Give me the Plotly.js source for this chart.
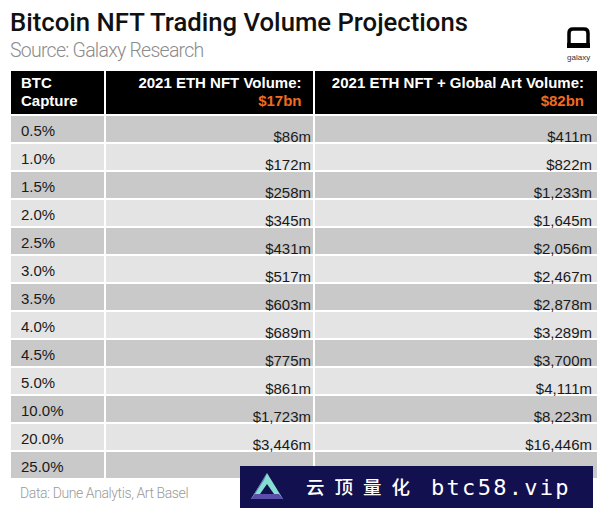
<!DOCTYPE html>
<html><head><meta charset="utf-8">
<script src="https://cdn.plot.ly/plotly-3.0.1.min.js"></script>
<style>body{margin:0;background:#fff}#c{width:600px;height:508px}</style>
</head><body><div id="c"></div>
<script>
const capture = ['0.5%','1.0%','1.5%','2.0%','2.5%','3.0%','3.5%','4.0%','4.5%','5.0%','10.0%','20.0%','25.0%'];
const ethNftVolume = [86,172,258,345,431,517,603,689,775,861,1723,3446,4307];
const ethPlusArtVolume = [411,822,1233,1645,2056,2467,2878,3289,3700,4111,8223,16446,20557];
const headerLine1 = ['BTC','2021 ETH NFT Volume:','2021 ETH NFT + Global Art Volume:'];
const headerLine2 = ['Capture','$17bn','$82bn'];

const W=600,H=508;
const px=x=>x/W, py=y=>1-y/H;
const fmt=v=>'$'+v.toLocaleString('en-US')+'m';
const blank=capture.map(()=>'');
const rowFill = capture.map((_,i)=> i%2===0 ? '#c9c9c9' : '#e4e4e4');
const clear='rgba(0,0,0,0)';
const cellFont={family:'Arial',size:15,color:'#1a1a1a'};
const hdrFont={family:'Arial',size:15,color:'#fff',weight:'bold'};

// fills
const tA={type:'table',domain:{x:[px(10),px(598)],y:[0,py(70)]},columnwidth:[95,209,284],
  header:{values:['','',''],height:45,fill:{color:'#000'},line:{color:'#fff',width:2}},
  cells:{values:[blank,blank,blank],height:28,fill:{color:[rowFill,rowFill,rowFill]},line:{color:'#fff',width:2}}};
// first column text
const tC={type:'table',domain:{x:[px(13),px(598)],y:[0,py(72)]},columnwidth:[92,209,284],
  header:{values:['','',''],height:45,fill:{color:clear},line:{color:clear,width:2}},
  cells:{values:[capture,blank,blank],align:'left',height:28,fill:{color:clear},line:{color:clear,width:2},font:cellFont}};
// value columns
const tB={type:'table',domain:{x:[px(13),1],y:[0,py(77.5)]},columnwidth:[92,214,281],
  header:{values:['','',''],height:45,fill:{color:clear},line:{color:clear,width:2}},
  cells:{values:[blank,ethNftVolume.map(fmt),ethPlusArtVolume.map(fmt)],align:['left','right','right'],height:28,
    fill:{color:clear},line:{color:clear,width:2},font:cellFont}};
// header lines
const tD={type:'table',domain:{x:[px(13),px(593)],y:[0,py(69)]},columnwidth:[92,205,283],
  header:{values:headerLine1,align:['left','right','right'],height:45,fill:{color:clear},line:{color:clear,width:2},font:hdrFont},
  cells:{values:[[''],[''],['']],height:28,fill:{color:clear},line:{color:clear,width:2}}};
const tE={type:'table',domain:{x:[px(13),px(593)],y:[0,py(87)]},columnwidth:[92,205,283],
  header:{values:headerLine2,align:['left','right','right'],height:45,fill:{color:clear},line:{color:clear,width:2},
    font:{family:'Arial',size:15,weight:'bold',color:['#fff','#f26a21','#f26a21']}},
  cells:{values:[[''],[''],['']],height:28,fill:{color:clear},line:{color:clear,width:2}}};

const P=(pts)=>'M '+pts.map(p=>px(p[0])+' '+py(p[1])).join(' L ')+' Z';
const tri=P([[267,473],[283,499],[251,499]]);
const triBase=P([[251,499],[283,499],[279,494],[255,494]]);
const triLeft=P([[251,499],[255,494],[264,480],[267,473]]);
const triIn=P([[267,484],[274,494],[260,494]]);
const logo=`M ${px(569)} ${py(44)} L ${px(569)} ${py(33)} Q ${px(569)} ${py(29)} ${px(573)} ${py(29)} L ${px(584)} ${py(29)} Q ${px(588)} ${py(29)} ${px(588)} ${py(33)} L ${px(588)} ${py(44)}`;

const layout={width:W,height:H,margin:{l:0,r:0,t:0,b:0},paper_bgcolor:'#fff',plot_bgcolor:'#fff',
  title:{text:'Bitcoin NFT Trading Volume Projections',x:px(10),xanchor:'left',xref:'paper',y:py(22),yanchor:'middle',
    font:{family:'Roboto',size:25.7,color:'#111',weight:500}},
  annotations:[
    {text:'Source: Galaxy Research',xref:'paper',yref:'paper',x:px(10),y:py(50.5),xanchor:'left',yanchor:'middle',showarrow:false,
     font:{family:'Roboto',size:19.5,color:'#8c8c8c',weight:300}},
    {text:'galaxy',xref:'paper',yref:'paper',x:px(578),y:py(57),xanchor:'center',yanchor:'middle',showarrow:false,
     font:{family:'Arial',size:8,color:'#333'}},
    {text:'Data: Dune Analytis, Art Basel',xref:'paper',yref:'paper',x:px(20),y:py(493),xanchor:'left',yanchor:'middle',showarrow:false,
     font:{family:'Roboto',size:14,color:'#9a9a9a',weight:300}},
    {text:'云顶量化',xref:'paper',yref:'paper',x:px(306),y:py(486),xanchor:'left',yanchor:'middle',showarrow:false,
     font:{family:'Noto Sans CJK SC',size:18.5,color:'#fff',weight:500}},
    {text:'btc58.vip',xref:'paper',yref:'paper',x:px(431),y:py(487),xanchor:'left',yanchor:'middle',showarrow:false,
     font:{family:'DejaVu Sans Mono',size:22,color:'#fff'}}
  ],
  shapes:[
    {type:'path',xref:'paper',yref:'paper',path:logo,line:{color:'#000',width:3.5}},
    {type:'rect',xref:'paper',yref:'paper',x0:px(567),x1:px(590),y0:py(48),y1:py(43),fillcolor:'#000',line:{width:0}},
    {type:'rect',xref:'paper',yref:'paper',x0:px(240),x1:px(593),y0:0,y1:py(466),fillcolor:'#13104f',line:{width:0},layer:'above'},
    {type:'path',xref:'paper',yref:'paper',path:tri,fillcolor:'#86ddd2',line:{width:0},layer:'above'},
    {type:'path',xref:'paper',yref:'paper',path:triLeft,fillcolor:'#5f6fb8',line:{width:0},layer:'above'},
    {type:'path',xref:'paper',yref:'paper',path:triBase,fillcolor:'#5a4fa8',line:{width:0},layer:'above'},
    {type:'path',xref:'paper',yref:'paper',path:triIn,fillcolor:'#13104f',line:{width:0},layer:'above'}
  ]};

function spaceText(el, spacing, leftX){
  if(!el) return;
  el.style.letterSpacing=spacing+'px';
  const r=el.getBoundingClientRect();
  const dx=leftX-r.left;
  el.setAttribute('transform',(el.getAttribute('transform')||'')+` translate(${dx},0)`);
}
Plotly.newPlot('c',[tA,tC,tB,tD,tE],layout,{displayModeBar:false}).then(gd=>{
  const a=gd.querySelectorAll('.annotation-text');
  spaceText(a[0],-0.75,10);
  spaceText(a[2],-0.4,20);
  spaceText(a[3],10,306);
  spaceText(a[4],2.3,431);
});
</script></body></html>
